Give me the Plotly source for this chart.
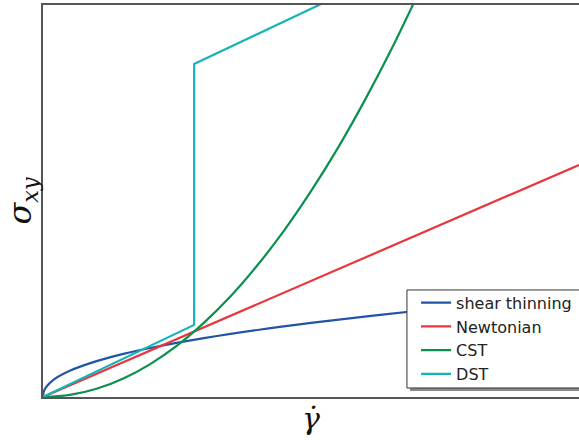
import plotly.graph_objects as go

# Values (axes normalised 0..1, no ticks shown)
thin_x = [0, 0.001, 0.005, 0.02, 0.05, 0.1, 0.15, 0.2, 0.3, 0.4, 0.5, 0.6, 0.7, 0.8, 0.9, 1.0]
thin_y = [0, 0.0115, 0.0238, 0.0444, 0.067, 0.0916, 0.110, 0.125, 0.150, 0.171, 0.189, 0.205, 0.220, 0.233, 0.246, 0.258]

newt_x = [0, 1.0]
newt_y = [0, 0.592]

cst_x = [0, 0.05, 0.1, 0.15, 0.2, 0.25, 0.3, 0.35, 0.4, 0.45, 0.5, 0.55, 0.6, 0.65, 0.7]
cst_y = [0, 0.00525, 0.021, 0.0473, 0.084, 0.131, 0.189, 0.257, 0.336, 0.425, 0.525, 0.635, 0.756, 0.887, 1.029]

dst_x = [0, 0.282, 0.282, 0.6]
dst_y = [0, 0.184, 0.8495, 1.055]

names = ["shear thinning", "Newtonian", "CST", "DST"]
colors = ["#2155a5", "#e8373c", "#0a904f", "#16b4b9"]

fig = go.Figure()
for xs, ys, nm, c, shp in [
    (thin_x, thin_y, names[0], colors[0], "spline"),
    (newt_x, newt_y, names[1], colors[1], "linear"),
    (cst_x, cst_y, names[2], colors[2], "spline"),
    (dst_x, dst_y, names[3], colors[3], "linear"),
]:
    fig.add_trace(go.Scatter(x=xs, y=ys, mode="lines", name=nm,
                             line=dict(color=c, width=2.2, shape=shp)))

# legend frame drawn as shapes (shadow + white box), legend itself transparent
fig.add_shape(type="rect", xref="paper", yref="paper",
              x0=0.6847, x1=1.05, y0=0.0153, y1=0.2653,
              fillcolor="#8a8a8a", line=dict(width=0), layer="above")
fig.add_shape(type="rect", xref="paper", yref="paper",
              x0=0.679, x1=1.05, y0=0.023, y1=0.273,
              fillcolor="white", line=dict(color="#333333", width=1), layer="above")

fig.update_layout(
    width=579, height=440,
    margin=dict(l=43, r=0, t=5, b=43, autoexpand=False),
    plot_bgcolor="rgba(0,0,0,0)", paper_bgcolor="white",
    showlegend=True,
    legend=dict(x=0.696, y=0.284, xanchor="left", yanchor="top",
                bgcolor="rgba(0,0,0,0)", borderwidth=0,
                font=dict(family="DejaVu Sans", size=16, color="#222222"),
                itemwidth=30),
    xaxis=dict(range=[0, 1], showgrid=False, zeroline=False, showticklabels=False,
               ticks="", showline=True, linecolor="#555555", linewidth=1.5, mirror=True,
               automargin=False,
               title=dict(text="<i>γ̇</i>", standoff=10,
                          font=dict(family="DejaVu Serif", size=30, color="#111111"))),
    yaxis=dict(range=[0, 1], showgrid=False, zeroline=False, showticklabels=False,
               ticks="", showline=True, linecolor="#555555", linewidth=1.5, mirror=False,
               automargin=False,
               title=dict(text="<i>σ<sub>xy</sub></i>", standoff=0,
                          font=dict(family="DejaVu Serif", size=32, color="#111111"))),
)

fig.write_html("out.html", config={"displayModeBar": False},
               post_script="document.body.style.margin='0';")
